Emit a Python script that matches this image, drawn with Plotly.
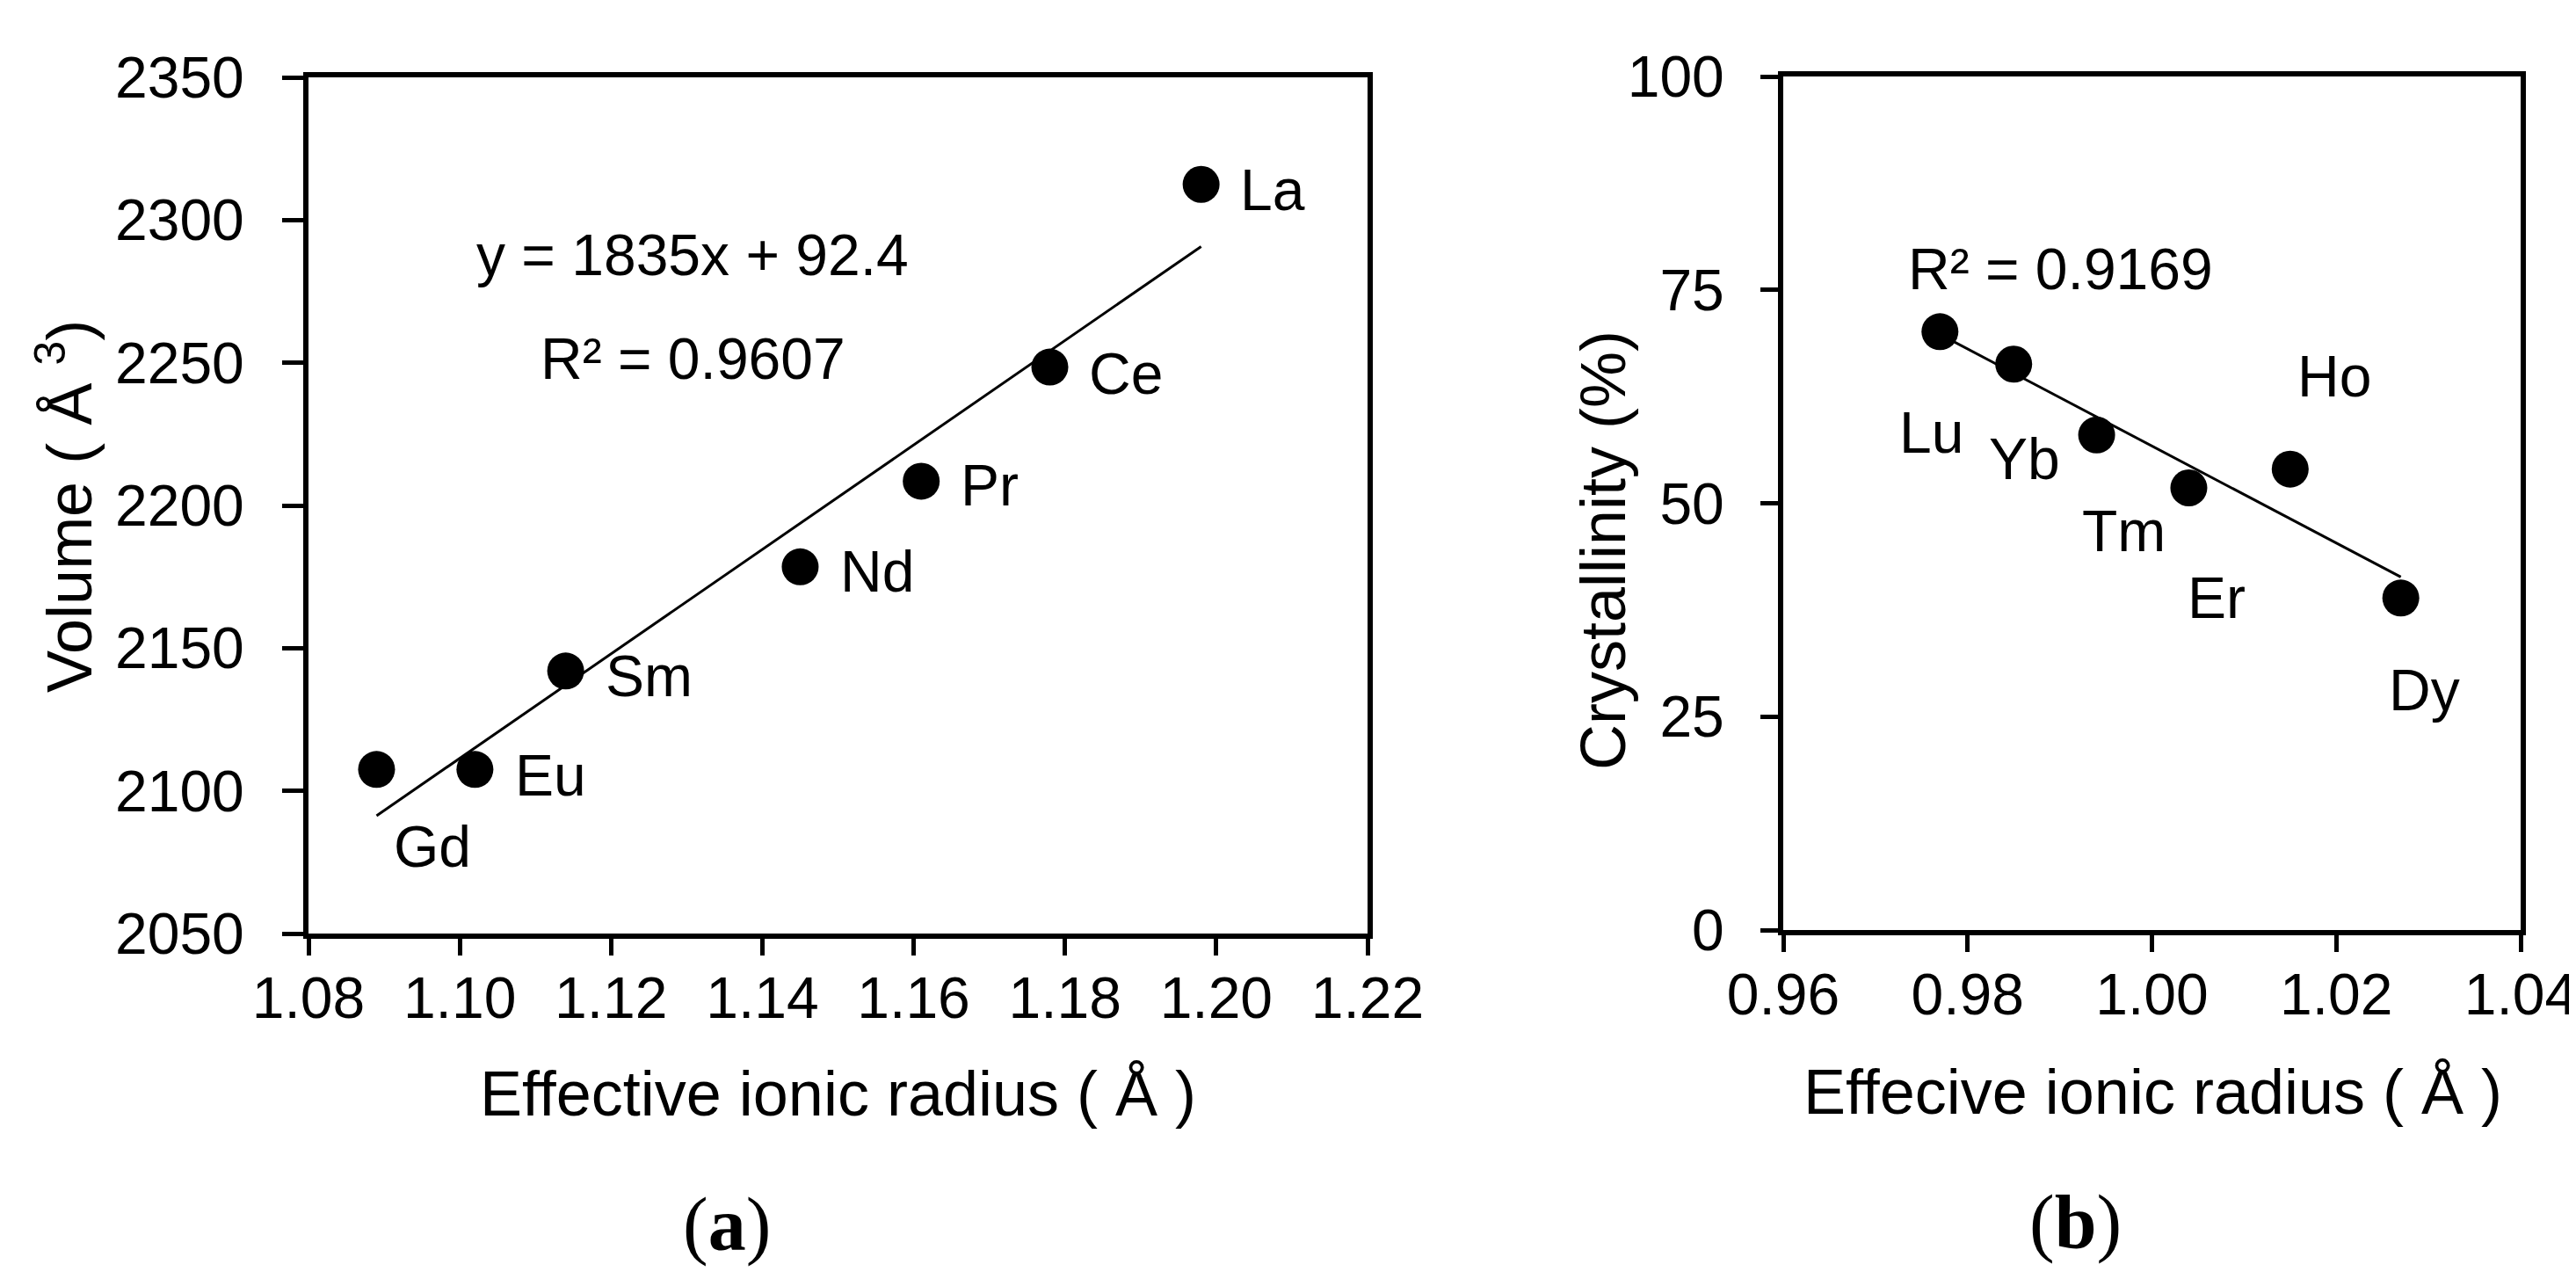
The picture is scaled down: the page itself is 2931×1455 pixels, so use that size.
import numpy as np
import plotly.graph_objects as go

# ---------------- data ----------------
elements_a = ["La", "Ce", "Pr", "Nd", "Sm", "Eu", "Gd"]
radius_a = [1.198, 1.178, 1.161, 1.145, 1.114, 1.102, 1.089]
volume_a = [2312.5, 2248.5, 2208.5, 2178.5, 2142.0, 2107.5, 2107.5]

elements_b = ["Lu", "Yb", "Tm", "Er", "Ho", "Dy"]
radius_b = [0.977, 0.985, 0.994, 1.004, 1.015, 1.027]
cryst_b = [70.1, 66.3, 58.0, 51.8, 54.0, 38.9]

xticks_a = [1.08, 1.10, 1.12, 1.14, 1.16, 1.18, 1.20, 1.22]
yticks_a = [2050, 2100, 2150, 2200, 2250, 2300, 2350]
xticks_b = [0.96, 0.98, 1.00, 1.02, 1.04]
yticks_b = [0, 25, 50, 75, 100]

eq_a = "y = 1835x + 92.4"
r2_a = "R² = 0.9607"
r2_b = "R² = 0.9169"

# label offsets (px) : style only
off_a = [(42, -6), (42, -7), (43, -5), (44, -5), (43, -6), (44, -7), (18, -88)]
off_b = [(-48, -115), (-30, -108), (-19, -109), (-3, -125), (6, 106), (-16, -105)]

W, H = 2931, 1455
FONT = "Liberation Sans, Arial, sans-serif"
SERIF = "Liberation Serif, Times New Roman, serif"
TICK_SIZE = 66
TITLE_SIZE = 72

# ---------------- fits ----------------
ka, ba = np.polyfit(radius_a, volume_a, 1)
xa_line = np.array([min(radius_a), max(radius_a)])
ya_line = ka * xa_line + ba

kb, bb = np.polyfit(radius_b, cryst_b, 1)
xb_line = np.array([min(radius_b), max(radius_b)])
yb_line = kb * xb_line + bb

fig = go.Figure()

fig.add_trace(go.Scatter(x=xa_line, y=ya_line, mode="lines",
                         line=dict(color="black", width=3), xaxis="x", yaxis="y",
                         hoverinfo="skip"))
fig.add_trace(go.Scatter(x=radius_a, y=volume_a, mode="markers", text=elements_a,
                         marker=dict(color="black", size=42), xaxis="x", yaxis="y"))
fig.add_trace(go.Scatter(x=xb_line, y=yb_line, mode="lines",
                         line=dict(color="black", width=3), xaxis="x2", yaxis="y2",
                         hoverinfo="skip"))
fig.add_trace(go.Scatter(x=radius_b, y=cryst_b, mode="markers", text=elements_b,
                         marker=dict(color="black", size=42), xaxis="x2", yaxis="y2"))


def txt(size, family=FONT):
    return dict(size=size, family=family, color="black")


ann = []
for el, x, y, (dx, dy) in zip(elements_a, radius_a, volume_a, off_a):
    ann.append(dict(x=x, y=y, xref="x", yref="y", text=el, showarrow=False,
                    xanchor="left", yanchor="middle", xshift=dx, yshift=dy,
                    font=txt(TICK_SIZE)))
for el, x, y, (dx, dy) in zip(elements_b, radius_b, cryst_b, off_b):
    ann.append(dict(x=x, y=y, xref="x2", yref="y2", text=el, showarrow=False,
                    xanchor="left", yanchor="middle", xshift=dx, yshift=dy,
                    font=txt(TICK_SIZE)))

ann += [
    dict(x=1.1308, y=2287.8, xref="x", yref="y", text=eq_a, showarrow=False,
         xanchor="center", yanchor="middle", font=txt(TICK_SIZE)),
    dict(x=1.1308, y=2251.4, xref="x", yref="y", text=r2_a, showarrow=False,
         xanchor="center", yanchor="middle", font=txt(TICK_SIZE)),
    dict(x=0.9901, y=77.4, xref="x2", yref="y2", text=r2_b, showarrow=False,
         xanchor="center", yanchor="middle", font=txt(TICK_SIZE)),
    # axis titles
    dict(x=66 / W, y=1 - 568 / H, xref="paper", yref="paper",
         text="Volume ( Å <sup>3</sup>)", textangle=-90, showarrow=False,
         xanchor="center", yanchor="middle", font=txt(TITLE_SIZE)),
    dict(x=1816 / W, y=1 - 618 / H, xref="paper", yref="paper",
         text="Crystallinity (%)", textangle=-90, showarrow=False,
         xanchor="center", yanchor="middle", font=txt(TITLE_SIZE)),
    dict(x=945 / W, y=1 - 1236 / H, xref="paper", yref="paper",
         text="Effective ionic radius ( Å )", showarrow=False,
         xanchor="center", yanchor="middle", font=txt(TITLE_SIZE)),
    dict(x=2441 / W, y=1 - 1234 / H, xref="paper", yref="paper",
         text="Effecive ionic radius ( Å )", showarrow=False,
         xanchor="center", yanchor="middle", font=txt(TITLE_SIZE)),
    # captions
    dict(x=819 / W, y=1 - 1385 / H, xref="paper", yref="paper",
         text="(<b>a</b>)", showarrow=False,
         xanchor="center", yanchor="middle", font=txt(86, SERIF)),
    dict(x=2353 / W, y=1 - 1382 / H, xref="paper", yref="paper",
         text="(<b>b</b>)", showarrow=False,
         xanchor="center", yanchor="middle", font=txt(86, SERIF)),
]

axis_common = dict(showgrid=False, zeroline=False, showline=True, linecolor="black",
                   linewidth=6, mirror=True, ticks="outside", tickcolor="black",
                   tickwidth=5, automargin=False, tickfont=txt(TICK_SIZE))

fig.update_layout(
    width=W, height=H,
    margin=dict(l=0, r=0, t=0, b=0),
    paper_bgcolor="white", plot_bgcolor="white",
    showlegend=False,
    annotations=ann,
    xaxis=dict(domain=[343 / W, 1548 / W], range=[1.08, 1.22], tickvals=xticks_a,
               ticktext=[f"{v:.2f}" for v in xticks_a], anchor="y", ticklen=19,
               ticklabelstandoff=-8, **axis_common),
    yaxis=dict(domain=[1 - 1054 / H, 1 - 80 / H], range=[2050, 2350], tickvals=yticks_a,
               anchor="x", ticklen=24, ticklabelstandoff=30, **axis_common),
    xaxis2=dict(domain=[2021 / W, 2860 / W], range=[0.96, 1.04], tickvals=xticks_b,
                ticktext=[f"{v:.2f}" for v in xticks_b], anchor="y2", ticklen=19,
                ticklabelstandoff=-8, **axis_common),
    yaxis2=dict(domain=[1 - 1050 / H, 1 - 79 / H], range=[0, 100], tickvals=yticks_b,
                anchor="x2", ticklen=20, ticklabelstandoff=28, **axis_common),
)

fig.write_html("out.html")
